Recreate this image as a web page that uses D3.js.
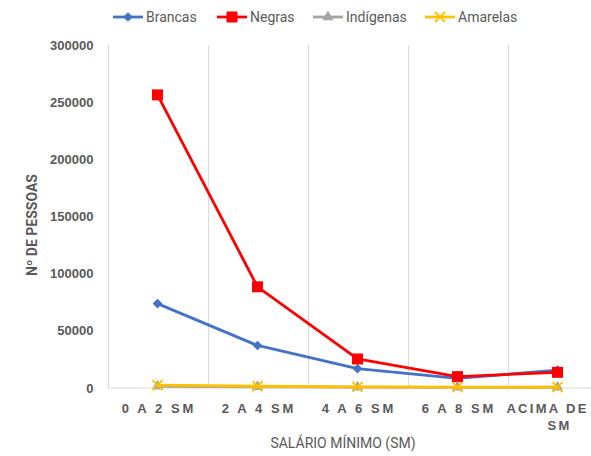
<!DOCTYPE html>
<html><head><meta charset="utf-8">
<script src="https://cdn.jsdelivr.net/npm/d3@7"></script>
<style>
body{margin:0;background:#fff;}
svg{display:block;font-family:Roboto,"Noto Sans",sans-serif;}
</style></head>
<body>
<svg id="chart" width="591" height="456"></svg>
<script>
(function(){
const categories = ["0 A 2 SM", "2 A 4 SM", "4 A 6 SM", "6 A 8 SM", "ACIMA DE SM"];
const brancas   = [73500, 36800, 16500, 8000, 15200];
const negras    = [256300, 88200, 25000, 9500, 13300];
const indigenas = [1000, 600, 300, 150, 200];
const amarelas  = [2000, 1100, 600, 300, 400];
const yTicks = [0, 50000, 100000, 150000, 200000, 250000, 300000];
const seriesNames = ["Brancas", "Negras", "Indígenas", "Amarelas"];

const series = [
  {name: seriesNames[0], values: brancas,   color: "#4472C4", marker: "diamond"},
  {name: seriesNames[1], values: negras,    color: "#FF0000", marker: "square"},
  {name: seriesNames[2], values: indigenas, color: "#A5A5A5", marker: "triangle"},
  {name: seriesNames[3], values: amarelas,  color: "#FFC000", marker: "x"}
];

const svg = d3.select("#chart");
const mLeft = 107.5, mRight = 607.5, mTop = 45, mBottom = 387.5;
const x = d3.scaleBand().domain(categories).range([mLeft, mRight]);
const y = d3.scaleLinear().domain([0, 300000]).range([mBottom, mTop]);
const textColor = "#595959";

svg.append("g").selectAll("line").data(categories).join("line")
  .attr("x1", d => Math.round(x(d)) + 0.5).attr("x2", d => Math.round(x(d)) + 0.5)
  .attr("y1", mTop).attr("y2", mBottom)
  .attr("stroke", "#d9d9d9").attr("stroke-width", 1);

svg.append("line").attr("x1", mLeft).attr("x2", mRight)
  .attr("y1", mBottom + 0.5).attr("y2", mBottom + 0.5)
  .attr("stroke", "#d9d9d9").attr("stroke-width", 1);

const yAxis = d3.axisLeft(y).tickValues(yTicks).tickSize(0).tickPadding(14).tickFormat(d3.format("d"));
const ya = svg.append("g").attr("transform", `translate(${mLeft},0)`).call(yAxis);
ya.select(".domain").remove();
ya.selectAll("text").attr("fill", textColor).style("font-size", "13px").style("font-weight", "bold")
  .attr("dy", "0.35em");

const xAxis = d3.axisBottom(x).tickSize(0).tickPadding(0);
const xa = svg.append("g").attr("transform", `translate(0,${mBottom})`).call(xAxis);
xa.select(".domain").remove();
xa.selectAll("text").remove();
xa.selectAll(".tick").each(function(d) {
  const g = d3.select(this);
  const wrap = d === "ACIMA DE SM";
  const lines = wrap ? ["ACIMA DE", "SM"] : [d];
  const offs = wrap ? [-10, 2] : [1.3];
  const t = g.append("text").attr("fill", textColor).attr("text-anchor", "middle")
    .style("font-size", "13px").style("font-weight", "bold").style("letter-spacing", wrap ? "2.3px" : "2.6px");
  lines.forEach((l, i) => {
    t.append("tspan").attr("x", offs[i]).attr("y", 25 + i * 17).text(l);
  });
});

svg.append("text").attr("x", 343).attr("y", 448).attr("text-anchor", "middle")
  .attr("fill", textColor).style("font-size", "14px").text("SALÁRIO MÍNIMO (SM)");
svg.append("text").attr("transform", "translate(37,225) rotate(-90)").attr("text-anchor", "middle")
  .attr("fill", textColor).style("font-size", "14px").style("font-weight", "bold").text("Nº DE PESSOAS");

function drawMarker(g, type, color, cx, cy) {
  if (type === "diamond") {
    g.append("path").attr("d", d3.symbol(d3.symbolDiamond2, 60)()).attr("transform", `translate(${cx},${cy})`).attr("fill", color);
  } else if (type === "square") {
    g.append("rect").attr("x", cx - 5.5).attr("y", cy - 5.5).attr("width", 11).attr("height", 11).attr("fill", color);
  } else if (type === "triangle") {
    g.append("path").attr("d", d3.symbol(d3.symbolTriangle, 55)()).attr("transform", `translate(${cx},${cy})`).attr("fill", color);
  } else {
    g.append("path").attr("d", `M${cx-5},${cy-5}L${cx+5},${cy+5}M${cx-5},${cy+5}L${cx+5},${cy-5}`)
      .attr("stroke", color).attr("stroke-width", 1.8).attr("fill", "none");
  }
}

const line = d3.line().x((d, i) => x(categories[i]) + x.bandwidth() / 2).y(d => y(d));
series.forEach(s => {
  const g = svg.append("g");
  g.append("path").datum(s.values).attr("d", line).attr("fill", "none")
    .attr("stroke", s.color).attr("stroke-width", 2.8).attr("stroke-linejoin", "round");
  s.values.forEach((v, i) => drawMarker(g, s.marker, s.color, x(categories[i]) + x.bandwidth() / 2, y(v)));
});

const legX = [113, 217, 313, 425];
const lg = svg.append("g");
series.forEach((s, i) => {
  const g = lg.append("g").attr("transform", `translate(${legX[i]},17)`);
  g.append("line").attr("x1", 0).attr("x2", 30).attr("y1", 0).attr("y2", 0)
    .attr("stroke", s.color).attr("stroke-width", 2.8);
  drawMarker(g, s.marker, s.color, 15, 0);
  g.append("text").attr("x", 33).attr("y", 0).attr("dy", "0.35em").attr("fill", textColor)
    .style("font-size", "14px").text(s.name);
});
})();
</script>
</body></html>
